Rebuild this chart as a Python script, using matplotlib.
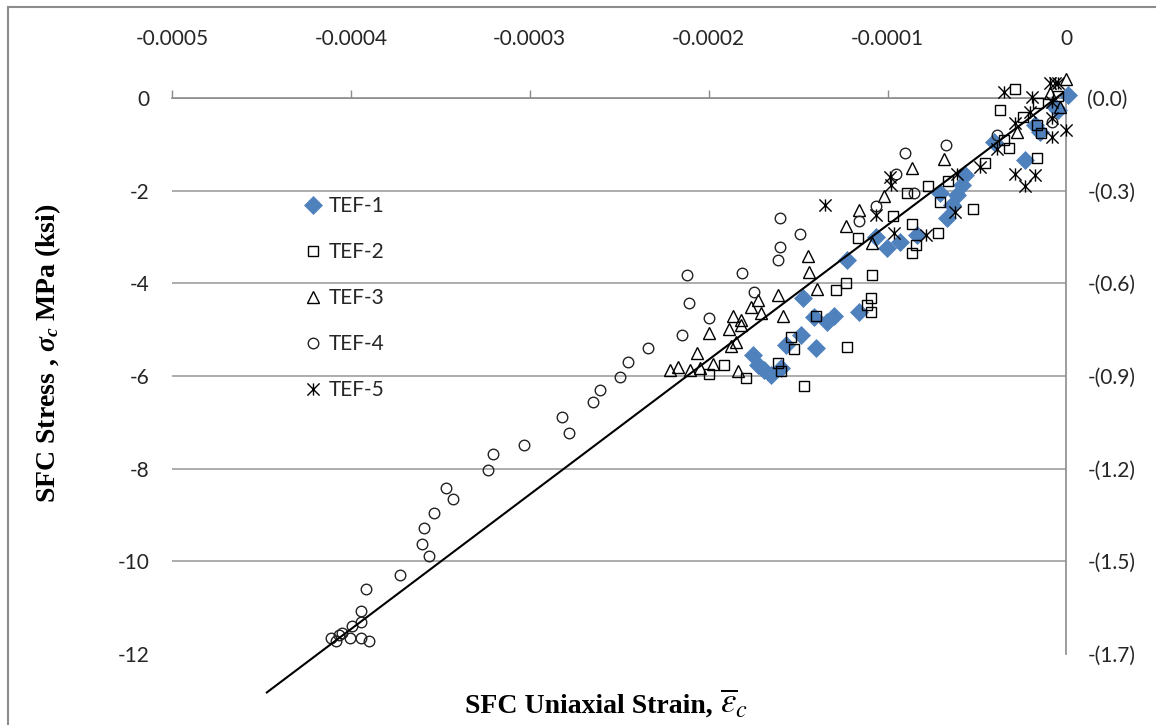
import matplotlib
matplotlib.use('Agg')
import matplotlib.pyplot as plt
from matplotlib.path import Path
from matplotlib.lines import Line2D
import numpy as np

# ---------------- data (strain in microstrain, stress in MPa) ----------------
tef1_x = [1.0, -6.4, -4.7, -17.5, -14.8, -23.1, -40.8, -56.5, -58.4, -61.2, -64.0, -66.7,
          -70.9, -83.5, -92.8, -100.2, -106.7, -122.5, -147.5, -141.1, -133.6, -129.9,
          -116.0, -148.5, -156.8, -140.1, -175.4, -172.6, -168.9, -165.2, -159.6]
tef1_y = [0.06, -0.19, -0.26, -0.58, -0.73, -1.34, -0.94, -1.66, -1.88, -2.09, -2.31, -2.60,
          -2.06, -2.96, -3.10, -3.24, -2.99, -3.50, -4.32, -4.72, -4.83, -4.71,
          -4.61, -5.12, -5.33, -5.40, -5.55, -5.76, -5.87, -5.98, -5.83]

tef2_x = [-28.7, -37.0, -4.7, -15.9, -24.2, -16.4, -14.2, -32.0, -34.8, -45.4, -16.4, -66.0,
          -77.2, -88.9, -52.1, -70.5, -97.2, -86.6, -71.6, -116.7, -84.4, -86.1, -108.5,
          -123.4, -129.0, -109.5, -111.3, -109.5, -140.1, -122.8, -154.0, -152.5, -191.5,
          -199.6, -161.1, -159.6, -179.1, -147.0]
tef2_y = [0.19, -0.26, 0.04, -0.11, -0.41, -0.58, -0.76, -1.08, -0.91, -1.40, -1.30, -1.79,
          -1.90, -2.05, -2.40, -2.24, -2.55, -2.72, -2.91, -3.02, -3.17, -3.35, -3.82,
          -3.99, -4.14, -4.32, -4.47, -4.61, -4.71, -5.37, -5.15, -5.42, -5.76,
          -5.96, -5.71, -5.89, -6.05, -6.22]

tef3_x = [0.0, -9.2, -3.6, -27.7, -68.6, -86.2, -102.1, -116.0, -123.4, -144.7, -143.8,
          -139.2, -161.4, -172.3, -176.3, -170.8, -186.5, -181.9, -181.9, -188.4, -199.6,
          -158.7, -184.7, -187.5, -206.6, -221.8, -217.2, -210.7, -205.1, -197.7, -183.7,
          -108.5]
tef3_y = [0.40, 0.11, -0.19, -0.73, -1.32, -1.52, -2.12, -2.42, -2.76, -3.41, -3.75,
          -4.13, -4.25, -4.36, -4.52, -4.63, -4.70, -4.79, -4.90, -4.99, -5.08,
          -4.71, -5.26, -5.35, -5.50, -5.86, -5.81, -5.86, -5.83, -5.74, -5.89,
          -3.14]

tef4_x = [-160.0, -148.9, -160.0, -161.4, -212.0, -181.5, -174.5, -211.0, -199.6, -214.8,
          -233.9, -245.0, -249.7, -260.8, -264.5, -281.8, -277.9, -303.0, -320.8, -323.4,
          -346.8, -343.1, -353.3, -359.2, -360.2, -356.4, -372.3, -391.4, -394.5, -394.5,
          -399.6, -404.7, -406.6, -411.3, -408.5, -400.5, -394.5, -389.9, -116.0, -106.7,
          -90.0, -67.3, -38.9, -95.5, -8.1, -85.5]
tef4_y = [-2.60, -2.94, -3.21, -3.50, -3.82, -3.77, -4.18, -4.43, -4.75, -5.12,
          -5.39, -5.69, -6.02, -6.30, -6.56, -6.89, -7.24, -7.50, -7.69, -8.03,
          -8.42, -8.66, -8.96, -9.27, -9.63, -9.89, -10.30, -10.60, -11.07, -11.32,
          -11.40, -11.55, -11.59, -11.66, -11.71, -11.66, -11.66, -11.71, -2.65, -2.33,
          -1.19, -1.01, -0.80, -1.63, -0.51, -2.05]

tef5_x = [-34.8, -19.4, -9.2, -6.4, -4.7, -8.2, -20.3, -8.2, 0.0, -8.2, -28.7, -38.9,
          -48.2, -28.7, -17.5, -23.1, -61.2, -98.7, -98.3, -106.7, -96.5, -78.8, -62.1,
          -135.1]
tef5_y = [0.14, 0.03, 0.32, 0.32, 0.33, -0.08, -0.30, -0.44, -0.69, -0.84, -0.55, -1.09,
          -1.48, -1.63, -1.66, -1.91, -1.63, -1.70, -1.88, -2.53, -2.92, -2.96, -2.45,
          -2.31]

trend_x = [-447.0, -2.0]
trend_y = [-12.83, 0.11]

x_ticks = [-500, -400, -300, -200, -100, 0]
x_tick_labels = ['-0.0005', '-0.0004', '-0.0003', '-0.0002', '-0.0001', '0']
y_ticks = [0, -2, -4, -6, -8, -10, -12]
y_tick_labels = ['0', '-2', '-4', '-6', '-8', '-10', '-12']
y_right_labels = ['(0.0)', '-(0.3)', '-(0.6)', '-(0.9)', '-(1.2)', '-(1.5)', '-(1.7)']
series_names = ['TEF-1', 'TEF-2', 'TEF-3', 'TEF-4', 'TEF-5']

# ---------------- styling ----------------
plt.rcParams['mathtext.fontset'] = 'custom'
plt.rcParams['mathtext.rm'] = 'Liberation Serif:bold'
plt.rcParams['mathtext.it'] = 'Liberation Serif:italic:bold'
plt.rcParams['mathtext.bf'] = 'Liberation Serif:bold'

W, H = 1156, 725
fig = plt.figure(figsize=(W / 100, H / 100), dpi=100)
ax = fig.add_axes([172 / W, 71 / H, (1066.5 - 172) / W, 556 / H])

blue = '#4F81BD'
grid_c = '#A6A6A6'
txt_c = '#262626'
S = 1e-6

asterisk = Path([(-1, -1), (1, 1), (-1, 1), (1, -1), (0, -1), (0, 1)],
                [Path.MOVETO, Path.LINETO] * 3)

common = dict(ls='none', clip_on=False)
ax.plot(np.array(tef1_x) * S, tef1_y, marker='D', ms=8.8, mfc=blue, mec=blue, mew=0.5,
        label=series_names[0], zorder=3, **common)
ax.plot(np.array(tef2_x) * S, tef2_y, marker='s', ms=7.4, mfc='none', mec='black', mew=1.0,
        label=series_names[1], zorder=4, **common)
ax.plot(np.array(tef3_x) * S, tef3_y, marker='^', ms=8.2, mfc='none', mec='black', mew=1.0,
        label=series_names[2], zorder=5, **common)
ax.plot(np.array(tef4_x) * S, tef4_y, marker='o', ms=7.6, mfc='none', mec='#222222', mew=1.0,
        label=series_names[3], zorder=6, **common)
ax.plot(np.array(tef5_x) * S, tef5_y, marker=asterisk, ms=8.8, mfc='none', mec='black', mew=1.0,
        label=series_names[4], zorder=7, **common)
ax.plot(np.array(trend_x) * S, trend_y, color='black', lw=1.5, clip_on=False, zorder=8)

ax.set_xlim(-500 * S, 0)
ax.set_ylim(-12, 0)

ax.xaxis.tick_top()
ax.set_xticks(np.array(x_ticks) * S, labels=x_tick_labels)
ax.set_yticks(y_ticks, labels=y_tick_labels)
ax.tick_params(axis='x', direction='out', length=6, width=1.0, color='#8C8C8C', pad=29,
               labelsize=15, labelcolor=txt_c)
ax.tick_params(axis='y', length=0, pad=16, labelsize=15, labelcolor=txt_c)
for lab in ax.get_xticklabels() + ax.get_yticklabels():
    lab.set_fontfamily('Lato')

ax.grid(axis='y', color=grid_c, lw=1.3)
ax.set_axisbelow(True)
gl = ax.yaxis.get_gridlines()
gl[-1].set_visible(False)

ax.spines['left'].set_visible(False)
ax.spines['bottom'].set_visible(False)
ax.spines['top'].set_color('#8C8C8C')
ax.spines['right'].set_color('#8C8C8C')
ax.spines['top'].set_linewidth(1.2)
ax.spines['right'].set_linewidth(1.2)

ax2 = ax.twinx()
ax2.set_ylim(ax.get_ylim())
ax2.set_yticks(y_ticks, labels=y_right_labels)
ax2.tick_params(axis='y', length=0, pad=15, labelsize=15, labelcolor=txt_c)
for lab in ax2.get_yticklabels():
    lab.set_fontfamily('Lato')
for s in ax2.spines.values():
    s.set_visible(False)

leg = ax.legend(loc='upper left', bbox_to_anchor=(303 / W, 1 - 196 / H),
                bbox_transform=fig.transFigure, frameon=False,
                handlelength=1.0, handletextpad=0.25, labelspacing=1.25,
                borderpad=0, borderaxespad=0, numpoints=1,
                prop={'family': 'Lato', 'size': 15})
for t in leg.get_texts():
    t.set_color(txt_c)

fig.text(48 / W, 1 - 353 / H, r'SFC Stress , $\sigma_c$ MPa (ksi)', rotation=90,
         family='Liberation Serif', weight='bold', size=20, ha='center', va='center',
         math_fontfamily='custom', color='black')
fig.text(465 / W, 1 - 713 / H, 'SFC Uniaxial Strain,',
         family='Liberation Serif', weight='bold', size=20, ha='left', va='baseline',
         color='black')
fig.text(720 / W, 1 - 713 / H, r'$\overline{\varepsilon}_c$',
         size=25, ha='left', va='baseline', math_fontfamily='stix', color='black')

# chart-area border (top and left edges visible)
fig.add_artist(Line2D([8 / W, 8 / W], [0, 1 - 7 / H], transform=fig.transFigure,
                      color='#8C8C8C', lw=1.5))
fig.add_artist(Line2D([8 / W, 1], [1 - 7 / H, 1 - 7 / H], transform=fig.transFigure,
                      color='#8C8C8C', lw=1.5))

fig.savefig('out.png', dpi=100)
